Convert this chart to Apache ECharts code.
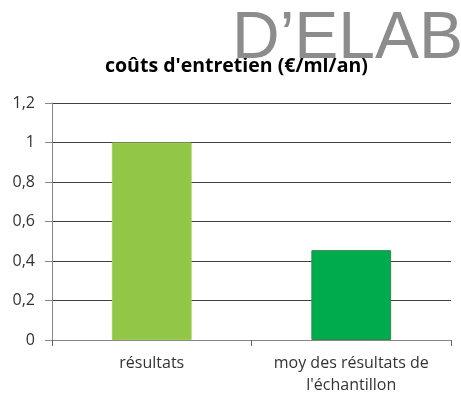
<!DOCTYPE html>
<html><head><meta charset="utf-8">
<script src="https://cdn.jsdelivr.net/npm/echarts@6/dist/echarts.min.js"></script>
<style>html,body{margin:0;padding:0;background:#fff}#c{width:461px;height:405px}</style>
</head><body><div id="c"></div>
<script>
const titleText = "coûts d'entretien (€/ml/an)";
const watermark = "D’ELAB";
const categories = ["résultats", "moy des résultats de\nl'échantillon"];
const values = [1.0, 0.455];
const barColors = ["#92C647", "#00AB4E"];
const barBorders = ["#9fd05a", "#2e8b4e"];
const yTicks = [0, 0.2, 0.4, 0.6, 0.8, 1, 1.2];

const chart = echarts.init(document.getElementById('c'), null, {renderer: 'canvas'});
chart.setOption({
  animation: false,
  backgroundColor: '#fff',
  title: {
    text: titleText, left: 100, top: 51,
    textStyle: {fontFamily: 'Open Sans', fontWeight: 'bold', fontSize: 19.5, color: '#000'}
  },
  graphic: [{
    type: 'text', left: 232, top: 7, z: 100,
    style: {text: watermark, fill: '#8c8c8c', font: '66px "Liberation Sans"'}
  }],
  grid: {left: 52, right: 10, top: 103, bottom: 65},
  xAxis: {
    type: 'category', data: categories,
    axisLine: {lineStyle: {color: '#868686'}},
    axisTick: {show: true, length: 6, lineStyle: {color: '#666'}},
    axisLabel: {interval: 0, hideOverlap: false, fontFamily: 'Open Sans', fontSize: 16, color: '#333', margin: 12, lineHeight: 22}
  },
  yAxis: {
    type: 'value', min: 0, max: 1.2, interval: 0.2,
    axisLine: {show: true, lineStyle: {color: '#868686'}},
    axisTick: {show: true, length: 7, lineStyle: {color: '#868686'}},
    splitLine: {lineStyle: {color: '#404040', width: 1}},
    axisLabel: {
      fontFamily: 'Open Sans', fontSize: 16, color: '#333', margin: 17,
      formatter: v => yTicks.includes(+v.toFixed(1)) ? String(+v.toFixed(1)).replace('.', ',') : ''
    }
  },
  series: [{
    type: 'bar', barWidth: '40%',
    data: values.map((v, i) => ({value: v, itemStyle: {color: barColors[i], borderColor: barBorders[i], borderWidth: 1}}))
  }]
});
</script></body></html>
